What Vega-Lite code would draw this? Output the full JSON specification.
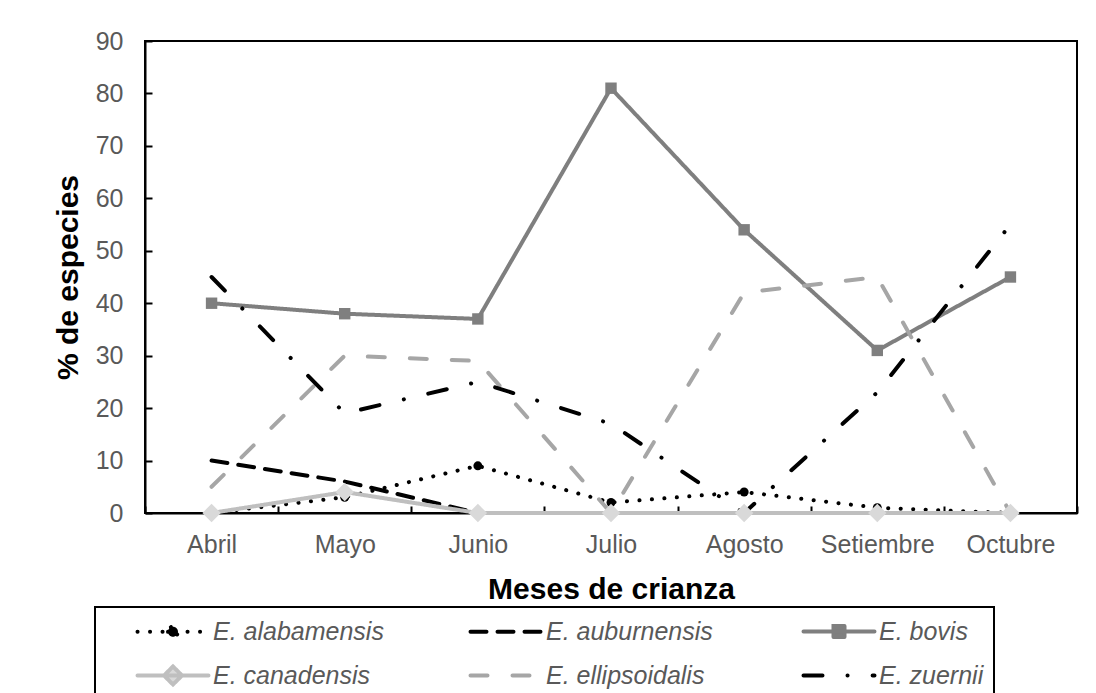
{
  "$schema": "https://vega.github.io/schema/vega-lite/v6.json",
  "autosize": "none",
  "width": 932,
  "height": 472,
  "padding": {"left": 145, "top": 41, "right": 19, "bottom": 180},
  "background": "white",
  "data": {
    "values": [
      {"month": "Abril", "species": "E. alabamensis", "value": 0},
      {"month": "Mayo", "species": "E. alabamensis", "value": 3},
      {"month": "Junio", "species": "E. alabamensis", "value": 9},
      {"month": "Julio", "species": "E. alabamensis", "value": 2},
      {"month": "Agosto", "species": "E. alabamensis", "value": 4},
      {"month": "Setiembre", "species": "E. alabamensis", "value": 1},
      {"month": "Octubre", "species": "E. alabamensis", "value": 0},
      {"month": "Abril", "species": "E. auburnensis", "value": 10},
      {"month": "Mayo", "species": "E. auburnensis", "value": 6},
      {"month": "Junio", "species": "E. auburnensis", "value": 0},
      {"month": "Julio", "species": "E. auburnensis", "value": 0},
      {"month": "Agosto", "species": "E. auburnensis", "value": 0},
      {"month": "Setiembre", "species": "E. auburnensis", "value": 0},
      {"month": "Octubre", "species": "E. auburnensis", "value": 0},
      {"month": "Abril", "species": "E. bovis", "value": 40},
      {"month": "Mayo", "species": "E. bovis", "value": 38},
      {"month": "Junio", "species": "E. bovis", "value": 37},
      {"month": "Julio", "species": "E. bovis", "value": 81},
      {"month": "Agosto", "species": "E. bovis", "value": 54},
      {"month": "Setiembre", "species": "E. bovis", "value": 31},
      {"month": "Octubre", "species": "E. bovis", "value": 45},
      {"month": "Abril", "species": "E. canadensis", "value": 0},
      {"month": "Mayo", "species": "E. canadensis", "value": 4},
      {"month": "Junio", "species": "E. canadensis", "value": 0},
      {"month": "Julio", "species": "E. canadensis", "value": 0},
      {"month": "Agosto", "species": "E. canadensis", "value": 0},
      {"month": "Setiembre", "species": "E. canadensis", "value": 0},
      {"month": "Octubre", "species": "E. canadensis", "value": 0},
      {"month": "Abril", "species": "E. ellipsoidalis", "value": 5},
      {"month": "Mayo", "species": "E. ellipsoidalis", "value": 30},
      {"month": "Junio", "species": "E. ellipsoidalis", "value": 29},
      {"month": "Julio", "species": "E. ellipsoidalis", "value": 0},
      {"month": "Agosto", "species": "E. ellipsoidalis", "value": 42},
      {"month": "Setiembre", "species": "E. ellipsoidalis", "value": 45},
      {"month": "Octubre", "species": "E. ellipsoidalis", "value": 0},
      {"month": "Abril", "species": "E. zuernii", "value": 45},
      {"month": "Mayo", "species": "E. zuernii", "value": 19},
      {"month": "Junio", "species": "E. zuernii", "value": 25},
      {"month": "Julio", "species": "E. zuernii", "value": 17},
      {"month": "Agosto", "species": "E. zuernii", "value": 0},
      {"month": "Setiembre", "species": "E. zuernii", "value": 23},
      {"month": "Octubre", "species": "E. zuernii", "value": 55}
    ]
  },
  "encoding": {
    "x": {
      "field": "month",
      "type": "ordinal",
      "sort": ["Abril", "Mayo", "Junio", "Julio", "Agosto", "Setiembre", "Octubre"],
      "title": "Meses de crianza",
      "axis": {
        "labelAngle": 0,
        "tickBand": "extent",
        "tickSize": -7,
        "labelPadding": 26,
        "titlePadding": 17
      }
    },
    "y": {
      "field": "value",
      "type": "quantitative",
      "title": "% de especies",
      "scale": {"domain": [0, 90], "nice": false},
      "axis": {
        "values": [0, 10, 20, 30, 40, 50, 60, 70, 80, 90],
        "tickSize": -7,
        "labelPadding": 29,
        "titlePadding": 12,
        "grid": false
      }
    }
  },
  "layer": [
    {
      "mark": {"type": "line", "strokeWidth": 4, "strokeCap": "round", "strokeJoin": "round"},
      "encoding": {
        "color": {
          "field": "species",
          "type": "nominal",
          "scale": {
            "domain": ["E. alabamensis", "E. auburnensis", "E. bovis", "E. canadensis", "E. ellipsoidalis", "E. zuernii"],
            "range": ["#000000", "#000000", "#7f7f7f", "#bfbfbf", "#a6a6a6", "#000000"]
          },
          "legend": {
            "title": null,
            "orient": "none",
            "direction": "horizontal",
            "legendX": -50,
            "legendY": 566,
            "columns": 3,
            "gridAlign": "all",
            "columnPadding": 54,
            "rowPadding": 11,
            "padding": 10,
            "symbolSize": 400,
            "symbolStrokeWidth": 4,
            "labelOffset": 83,
            "labelLimit": 300,
            "labelFontSize": 25,
            "labelFontStyle": "italic",
            "labelColor": "#595959",
            "labelFont": "Liberation Sans",
            "strokeColor": "#000000",
            "encode": {
              "symbols": {
                "update": {
                  "shape": {"signal": "datum.value === 'E. alabamensis' ? 'M2,0L9.1,0M5.05,0A0.5,0.5 0 1 0 6.05,0A0.5,0.5 0 1 0 5.05,0Z' : datum.value === 'E. bovis' ? 'M2,0L9.1,0M5,-0.55L6.1,-0.55L6.1,0.55L5,0.55Z' : datum.value === 'E. canadensis' ? 'M2,0L9.1,0M4.65,0L5.55,-0.9L6.45,0L5.55,0.9Z' : 'M2,0L9.1,0'"},
                  "fill": {"signal": "datum.value === 'E. canadensis' ? '#d9d9d9' : scale('color', datum.value)"},
                  "strokeCap": {"value": "round"},
                  "fillOpacity": {"value": 1}
                }
              }
            }
          }
        },
        "strokeDash": {
          "field": "species",
          "type": "nominal",
          "scale": {
            "domain": ["E. alabamensis", "E. auburnensis", "E. bovis", "E. canadensis", "E. ellipsoidalis", "E. zuernii"],
            "range": [[0.1, 12.4], [16, 11], [1, 0], [1, 0], [17, 25], [19, 25, 0.1, 25]]
          },
          "legend": null
        }
      }
    },
    {
      "transform": [{"filter": "datum.species === 'E. alabamensis'"}],
      "mark": {"type": "point", "shape": "circle", "filled": true, "size": 80, "color": "#000000", "opacity": 1}
    },
    {
      "transform": [{"filter": "datum.species === 'E. bovis'"}],
      "mark": {"type": "point", "shape": "square", "filled": true, "size": 130, "color": "#7f7f7f", "opacity": 1}
    },
    {
      "transform": [{"filter": "datum.species === 'E. canadensis'"}],
      "mark": {"type": "point", "shape": "diamond", "filled": true, "size": 340, "color": "#d9d9d9", "opacity": 1}
    }
  ],
  "config": {
    "font": "Liberation Sans",
    "view": {"stroke": "#000000", "strokeWidth": 2},
    "axis": {
      "domainColor": "#000000",
      "domainWidth": 2,
      "tickColor": "#000000",
      "tickWidth": 2,
      "labelFont": "Liberation Sans",
      "labelFontSize": 25,
      "labelColor": "#595959",
      "titleFont": "Liberation Sans",
      "titleFontSize": 30,
      "titleFontWeight": "bold",
      "titleColor": "#000000"
    },
    "legend": {"strokeWidth": 2}
  }
}
